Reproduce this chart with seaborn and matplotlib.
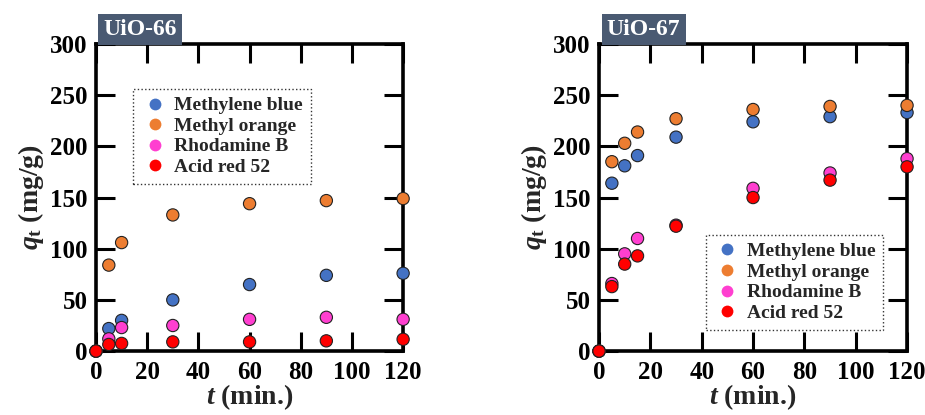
import pandas as pd
import matplotlib
matplotlib.use("Agg")
import matplotlib.pyplot as plt
from matplotlib.lines import Line2D
import seaborn as sns

# dyes and colours
dyes = ["Methylene blue", "Methyl orange", "Rhodamine B", "Acid red 52"]
dye_colors = ["#4472C4", "#ED7D31", "#FF3FD0", "#FF0000"]

# UiO-66 adsorption kinetics (mg/g)
t_66 = [0, 5, 10, 30, 60, 90, 120]
mb_66 = [0, 22, 30, 50, 65, 74, 76]
mo_66 = [0, 84, 106, 133, 144, 147, 149]
rhb_66 = [0, 12, 23, 25, 31, 33, 31]
ar_66 = [0, 6.5, 7.5, 9, 9, 10, 11.5]

# UiO-67 adsorption kinetics (mg/g)
t_67 = [0, 5, 10, 15, 30, 60, 90, 120]
mb_67 = [0, 164, 181, 191, 209, 224, 229, 233]
mo_67 = [0, 185, 203, 214, 227, 236, 239, 240]
rhb_67 = [0, 66, 95, 110, 123, 159, 174, 188]
ar_67 = [0, 63, 85, 93, 122, 150, 167, 180]


def to_long(t, series):
    rows = []
    for dye, vals in zip(dyes, series):
        for ti, v in zip(t, vals):
            rows.append({"t": ti, "q": v, "dye": dye})
    return pd.DataFrame(rows)


df66 = to_long(t_66, [mb_66, mo_66, rhb_66, ar_66])
df67 = to_long(t_67, [mb_67, mo_67, rhb_67, ar_67])

sns.set_theme(style="ticks")
plt.rcParams["font.family"] = ["Liberation Serif", "DejaVu Serif"]
plt.rcParams["font.weight"] = "bold"
plt.rcParams["mathtext.fontset"] = "custom"
plt.rcParams["mathtext.rm"] = "Liberation Serif:bold"
plt.rcParams["mathtext.it"] = "Liberation Serif:bold:italic"

fig = plt.figure(figsize=(9.25, 4.15), dpi=100)
ax1 = fig.add_axes([0.1038, 0.154, 0.332, 0.740])
ax2 = fig.add_axes([0.6476, 0.154, 0.333, 0.740])

palette = dict(zip(dyes, dye_colors))
handles = [Line2D([], [], marker="o", linestyle="none", markersize=8.5,
                  markerfacecolor=c, markeredgecolor="none") for c in dye_colors]

setups = [
    (ax1, df66, "UiO-66", (0.09, 0.885)),
    (ax2, df67, "UiO-67", (0.315, 0.41)),
]

for ax, df, name, leg_pos in setups:
    sns.scatterplot(data=df, x="t", y="q", hue="dye", palette=palette,
                    s=78, edgecolor="#222222", linewidth=0.8, legend=False,
                    clip_on=False, zorder=4, ax=ax)
    ax.set_xlim(0, 120)
    ax.set_ylim(0, 300)
    ax.set_xticks(range(0, 121, 20))
    ax.set_yticks(range(0, 301, 50))
    for sp in ax.spines.values():
        sp.set_linewidth(2.6)
        sp.set_color("black")
    ax.tick_params(direction="in", length=13.5, width=2.2, top=True, right=True,
                   labelsize=18, colors="black")
    ax.tick_params(axis="x", pad=7)
    ax.tick_params(axis="y", pad=6)
    for lab in ax.get_xticklabels() + ax.get_yticklabels():
        lab.set_fontweight("bold")
    ax.set_xlabel(r"$t$ (min.)", fontsize=20, fontweight="bold", labelpad=-1)
    ax.set_ylabel(r"$q_{\rm t}$ (mg/g)", fontsize=20, fontweight="bold", labelpad=3)

    leg = ax.legend(handles, dyes, loc="upper left", bbox_to_anchor=leg_pos,
                    frameon=True, fancybox=False,
                    prop={"weight": "bold", "size": 14},
                    handletextpad=0.3, handlelength=1.4, labelspacing=0.15,
                    borderpad=0.4)
    fr = leg.get_frame()
    fr.set_linestyle(":")
    fr.set_edgecolor("black")
    fr.set_linewidth(1.0)

    ax.text(0.025, 1.012, name, transform=ax.transAxes, ha="left", va="bottom",
            fontsize=17, fontweight="bold", color="white",
            bbox=dict(boxstyle="square,pad=0.22", fc="#4A5A72", ec="none"))

fig.savefig("out.png", dpi=100)
